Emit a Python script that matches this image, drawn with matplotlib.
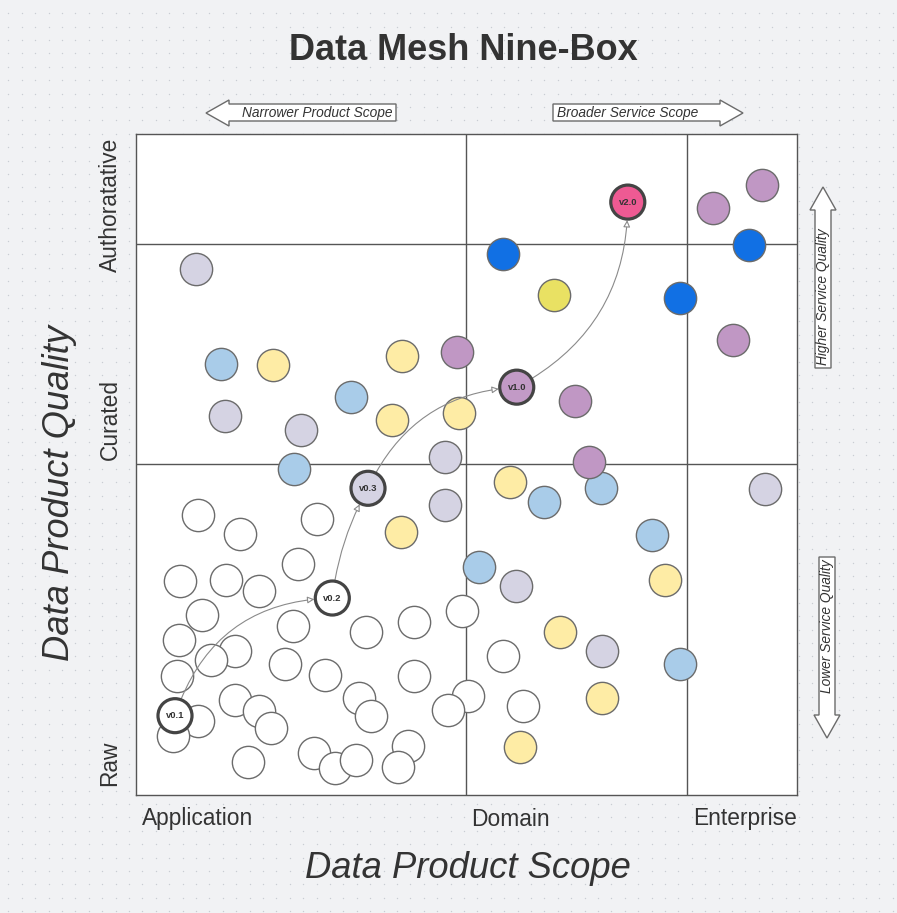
import matplotlib
matplotlib.use("Agg")
import matplotlib.pyplot as plt
import numpy as np
from matplotlib.patches import Polygon, FancyArrowPatch

plt.rcParams['font.family'] = ['Liberation Sans', 'DejaVu Sans']

# ---------------- data (scope score 0-100, quality score 0-100) ----------------
scope_labels = ["Application", "Domain", "Enterprise"]
quality_labels = ["Raw", "Curated", "Authoratative"]
scope_bounds = [49.9, 83.4]
quality_bounds = [50.1, 83.4]

white_x = [9.4, 15.7, 27.4, 6.7, 13.6, 18.6, 24.5, 10.0, 6.5, 15.0, 11.3, 6.2, 23.8, 34.8,
           42.1, 22.5, 28.6, 42.1, 49.3, 15.0, 18.6, 20.4, 9.4, 5.6, 33.7, 35.6, 50.2, 47.2,
           16.9, 26.9, 30.1, 33.3, 41.1, 39.6, 55.5, 58.5]
white_y = [42.4, 39.5, 41.8, 32.4, 32.5, 30.9, 34.9, 27.2, 23.4, 21.8, 20.4, 18.0, 25.6, 24.7,
           26.2, 19.8, 18.2, 18.0, 27.8, 14.4, 12.7, 10.1, 11.2, 8.9, 14.7, 12.0, 15.0, 12.9,
           5.0, 6.4, 4.1, 5.3, 7.4, 4.2, 21.0, 13.5]

lavender_x = [9.1, 13.5, 25.0, 46.7, 46.7, 57.5, 70.5, 95.2]
lavender_y = [79.6, 57.3, 55.2, 51.1, 43.9, 31.6, 21.8, 46.3]

lightblue_x = [12.9, 32.5, 23.9, 61.7, 70.3, 78.1, 51.9, 82.3]
lightblue_y = [65.2, 60.2, 49.3, 44.3, 46.4, 39.3, 34.5, 19.8]

yellow_x = [20.7, 40.2, 38.7, 48.9, 40.1, 56.6, 80.0, 64.1, 70.5, 58.1]
yellow_y = [65.1, 66.4, 56.7, 57.8, 39.8, 47.4, 32.5, 24.7, 14.7, 7.3]

purple_x = [48.6, 66.4, 68.5, 90.3, 87.3, 94.7]
purple_y = [67.0, 59.6, 50.4, 68.8, 88.8, 92.3]

blue_x = [55.5, 82.3, 92.7]
blue_y = [81.8, 75.2, 83.2]

lime_x = [63.2]
lime_y = [75.6]

version_names = ["v0.1", "v0.2", "v0.3", "v1.0", "v2.0"]
version_x = [5.9, 29.7, 35.1, 57.6, 74.4]
version_y = [12.0, 29.8, 46.4, 61.7, 89.7]
version_colors = ["#ffffff", "#ffffff", "#d5d3e3", "#c29ac6", "#ee5a93"]
path_rads = [-0.35, -0.1, -0.3, 0.3]

# ---------------- figure ----------------
W, H = 897, 913
fig = plt.figure(figsize=(W / 100, H / 100), dpi=100)
fig.patch.set_facecolor("#f1f2f4")

bg = fig.add_axes([0, 0, 1, 1], zorder=0)
bg.set_xlim(0, W)
bg.set_ylim(H, 0)
bg.axis("off")
gx, gy = np.meshgrid(np.arange(8.3, W, 13.4), np.arange(13.3, H, 13.4))
bg.scatter(gx.ravel(), gy.ravel(), s=1.0, color="#c9ccd3", linewidths=0)

L, R, T, B = 136, 797, 134, 795
ax = fig.add_axes([L / W, (H - B) / H, (R - L) / W, (B - T) / H], zorder=2)
ax.set_facecolor("white")
ax.set_xlim(0, 100)
ax.set_ylim(0, 100)
ax.set_xticks([])
ax.set_yticks([])
for s in ax.spines.values():
    s.set_color("#555555")
    s.set_linewidth(1.0)
for b in scope_bounds:
    ax.axvline(b, color="#555555", lw=1.0, zorder=1)
for b in quality_bounds:
    ax.axhline(b, color="#555555", lw=1.0, zorder=1)

S = 540
ek = dict(s=S, edgecolors="#6b6b6b", linewidths=1.0, zorder=3, clip_on=False)
ax.scatter(white_x, white_y, c="#ffffff", **ek)
ax.scatter(lavender_x, lavender_y, c="#d5d3e3", **ek)
ax.scatter(lightblue_x, lightblue_y, c="#a9cce9", **ek)
ax.scatter(yellow_x, yellow_y, c="#feeca5", **ek)
ax.scatter(purple_x, purple_y, c="#c097c4", **ek)
ax.scatter(blue_x, blue_y, c="#1170e4", **ek)
ax.scatter(lime_x, lime_y, c="#e9e163", **ek)

# version path
for i in range(len(version_x) - 1):
    arr = FancyArrowPatch((version_x[i], version_y[i]), (version_x[i + 1], version_y[i + 1]),
                          connectionstyle=f"arc3,rad={path_rads[i]}",
                          arrowstyle="-|>,head_length=4,head_width=2",
                          shrinkA=13, shrinkB=13, color="#8a8a8a", lw=0.8,
                          mutation_scale=1, zorder=4)
    arr.set_facecolor("white")
    ax.add_patch(arr)

ax.scatter(version_x, version_y, c=version_colors, s=600, edgecolors="#444444",
           linewidths=2.3, zorder=5, clip_on=False)
for n, x, y in zip(version_names, version_x, version_y):
    ax.text(x, y, n, ha="center", va="center", fontsize=6.8, fontweight="bold",
            color="#333333", zorder=6)

# ---------------- texts ----------------
tc = "#333333"
bg.text(463, 50, "Data Mesh Nine-Box", ha="center", va="center", fontsize=26,
        fontweight="bold", color=tc)
bg.text(468, 869, "Data Product Scope", ha="center", va="center", fontsize=26.2,
        style="italic", color=tc)
bg.text(60, 493, "Data Product Quality", ha="center", va="center", fontsize=26.2,
        style="italic", color=tc, rotation=90)

xt_pos = [198, 510, 745]
for lab, px in zip(scope_labels, xt_pos):
    bg.text(px, 819, lab, ha="center", va="center", fontsize=16.4, color=tc)
yt_pos = [763, 420, 205]
for lab, py in zip(quality_labels, yt_pos):
    bg.text(110, py, lab, ha="center", va="center", fontsize=16.4, color=tc, rotation=90)

# ---------------- block arrows ----------------
def block(points, text, tx, ty, rot=0):
    bg.add_patch(Polygon(points, closed=True, facecolor="white", edgecolor="#6b6b6b",
                         lw=1.0, zorder=3))
    bg.text(tx, ty, text, ha="center", va="center", fontsize=9.9, style="italic",
            color=tc, rotation=rot, zorder=4)

# left arrow
block([(206, 113), (229, 100), (229, 104), (396, 104), (396, 121), (229, 121), (229, 126)],
      "Narrower Product Scope", 317, 113)
# right arrow
block([(743, 113), (720, 100), (720, 104), (553, 104), (553, 121), (720, 121), (720, 126)],
      "Broader Service Scope", 628, 113)
# up arrow
block([(823, 187), (810, 210), (815, 210), (815, 368), (831, 368), (831, 210), (836, 210)],
      "Higher Service Quality", 823, 297, rot=90)
# down arrow
block([(827, 738), (814, 715), (819, 715), (819, 557), (835, 557), (835, 715), (840, 715)],
      "Lower Service Quality", 827, 626, rot=90)

fig.savefig("out.png", dpi=100, facecolor=fig.get_facecolor())
